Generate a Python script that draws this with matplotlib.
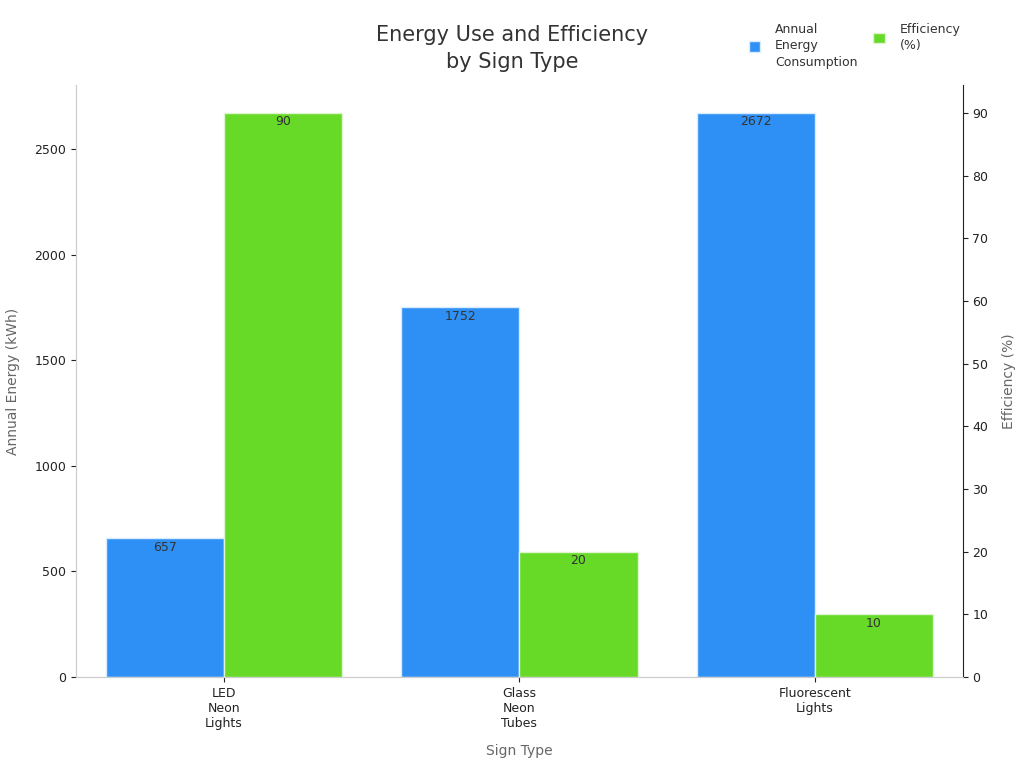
import matplotlib.pyplot as plt
import numpy as np

sign_types = ['LED\nNeon\nLights', 'Glass\nNeon\nTubes', 'Fluorescent\nLights']
energy_kwh = [657, 1752, 2672]
efficiency_pct = [90, 20, 10]

blue = '#2E90F5'
green = '#66DA26'
label_gray = '#666666'

fig = plt.figure(figsize=(10.24, 7.68), dpi=100)
ax = fig.add_axes([0.0742, 0.1185, 0.866, 0.7708])
ax2 = ax.twinx()

x = np.arange(len(sign_types))
w = 0.4
b1 = ax.bar(x - w / 2, energy_kwh, w, color=blue, edgecolor='#d8ecff', linewidth=1,
            label='Annual\nEnergy\nConsumption')
b2 = ax2.bar(x + w / 2, efficiency_pct, w, color=green, edgecolor='#dff5d0', linewidth=1,
             label='Efficiency\n(%)')

ax.set_xlim(-0.5, 2.5)
ax.set_ylim(0, max(energy_kwh) * 1.05)
ax2.set_ylim(0, max(efficiency_pct) * 1.05)
ax.set_yticks([0, 500, 1000, 1500, 2000, 2500])
ax2.set_yticks(range(0, 100, 10))

ax.set_xticks(x)
ax.set_xticklabels(sign_types, fontsize=9, color='#222222')
ax.tick_params(axis='y', labelsize=9, colors='#222222')
ax2.tick_params(axis='y', labelsize=9, colors='#222222')
ax.tick_params(axis='x', colors='#222222')

for a in (ax, ax2):
    a.spines['top'].set_visible(False)
    a.spines['left'].set_color('#cccccc')
    a.spines['bottom'].set_color('#cccccc')
ax.spines['right'].set_visible(False)
ax2.spines['right'].set_color('#222222')

ax.bar_label(b1, padding=-11, fontsize=9, color='#333333')
ax2.bar_label(b2, padding=-11, fontsize=9, color='#333333')

ax.set_ylabel('Annual Energy (kWh)', fontsize=10, color=label_gray, labelpad=10)
ax2.set_ylabel('Efficiency (%)', fontsize=10, color=label_gray, labelpad=10)
ax.set_xlabel('Sign Type', fontsize=10, color=label_gray, labelpad=10)

fig.suptitle('Energy Use and Efficiency\nby Sign Type', x=0.5, y=0.968, fontsize=15,
             color='#333333', linespacing=1.45)

# one legend per entry so the texts stay top-aligned like the reference
for bars, x_anchor in ((b1, 0.72), (b2, 0.842)):
    leg = fig.legend([bars], [bars.get_label()], loc='upper left',
                     bbox_to_anchor=(x_anchor, 0.985), frameon=False, fontsize=9,
                     handlelength=0.9, handleheight=0.9, handletextpad=1.2)
    for t in leg.get_texts():
        t.set_linespacing(1.35)
        t.set_color('#333333')

fig.savefig('out.png', dpi=100)
